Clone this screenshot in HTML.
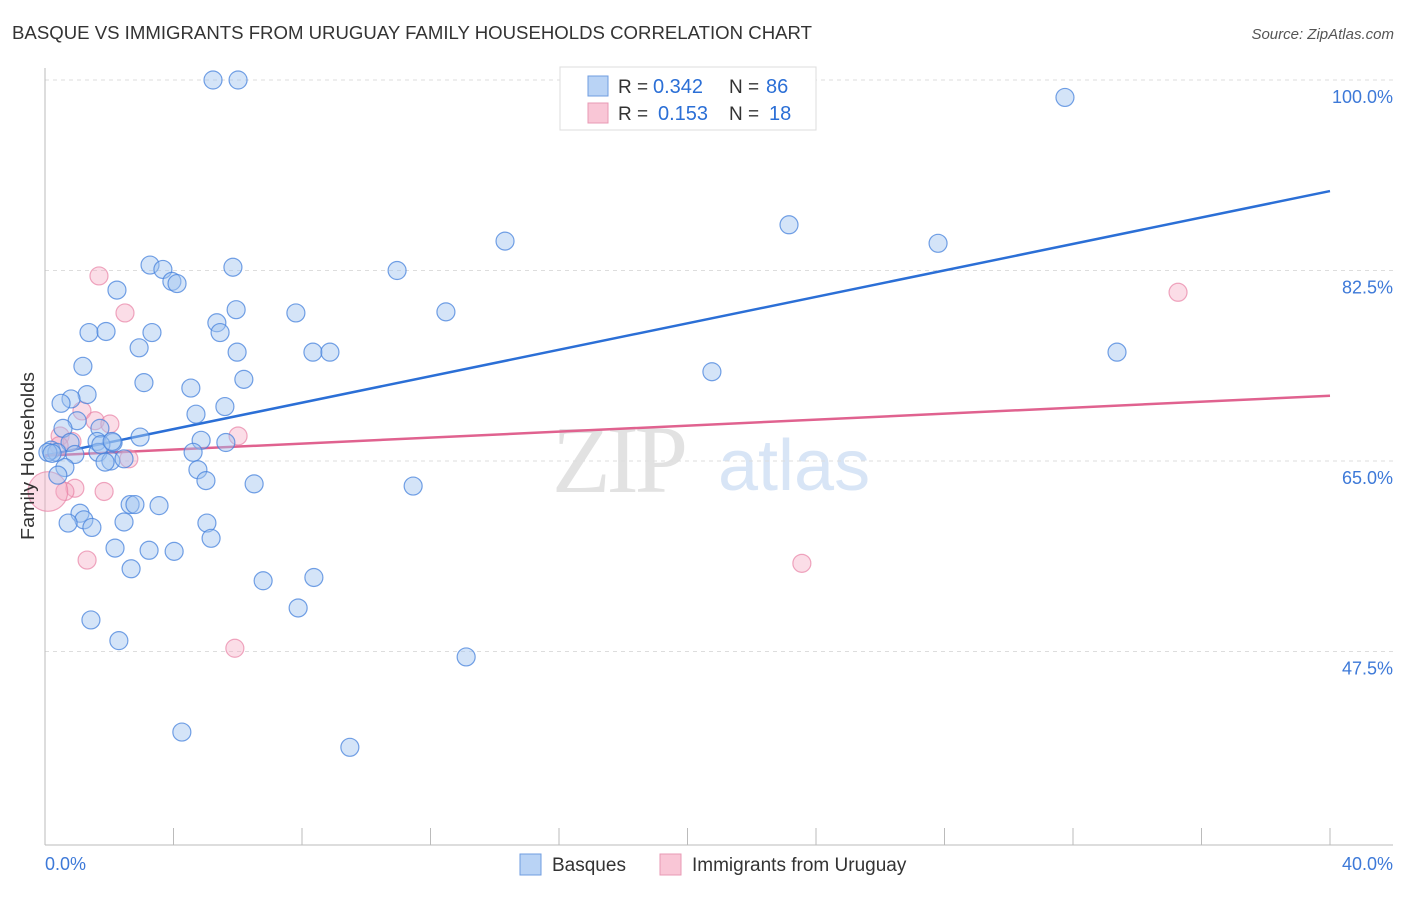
<!DOCTYPE html>
<html><head><meta charset="utf-8"><style>
body{margin:0;background:#fff;font-family:"Liberation Sans",sans-serif}
</style></head><body>
<svg id="chart" width="1406" height="892" xmlns="http://www.w3.org/2000/svg" style="font-family:'Liberation Sans',sans-serif">
<text x="12" y="39" font-size="18" fill="#333" textLength="800" lengthAdjust="spacingAndGlyphs">BASQUE VS IMMIGRANTS FROM URUGUAY FAMILY HOUSEHOLDS CORRELATION CHART</text>
<text x="1394" y="39" font-size="15" fill="#555" font-style="italic" text-anchor="end">Source: ZipAtlas.com</text>
<text x="552" y="492" font-size="96" fill="#e2e2e2" font-family="Liberation Serif" letter-spacing="-4">ZIP</text>
<text x="718" y="490" font-size="72" fill="#d8e5f6">atlas</text>
<g id="grid"></g><g id="axes"></g><g id="trend"></g><g id="points"></g>
<text transform="translate(34,456) rotate(-90)" font-size="18" fill="#333" text-anchor="middle" textLength="168" lengthAdjust="spacingAndGlyphs">Family Households</text>
<g>
<rect x="560" y="67" width="256" height="63" fill="#fff" stroke="#ddd"/>
<rect x="588" y="76" width="20" height="20" fill="#b9d3f5" stroke="#6f9de0"/>
<rect x="588" y="103" width="20" height="20" fill="#f9c6d6" stroke="#e89ab4"/>
<text x="618" y="93" font-size="19" fill="#333">R =</text>
<text x="653" y="93" font-size="20" fill="#2b6fd6">0.342</text>
<text x="729" y="93" font-size="19" fill="#333">N =</text>
<text x="766" y="93" font-size="20" fill="#2b6fd6">86</text>
<text x="618" y="120" font-size="19" fill="#333">R =</text>
<text x="658" y="120" font-size="20" fill="#2b6fd6">0.153</text>
<text x="729" y="120" font-size="19" fill="#333">N =</text>
<text x="769" y="120" font-size="20" fill="#2b6fd6">18</text>
</g>
<g>
<rect x="520" y="854" width="21" height="21" fill="#b9d3f5" stroke="#6f9de0"/>
<text x="552" y="871" font-size="19" fill="#333">Basques</text>
<rect x="660" y="854" width="21" height="21" fill="#f9c6d6" stroke="#e89ab4"/>
<text x="692" y="871" font-size="19" fill="#333">Immigrants from Uruguay</text>
</g>
</svg>
<script>
const yTicks=[100,82.5,65,47.5];
const yTickLabels=["100.0%","82.5%","65.0%","47.5%"];
const xTickLabels=["0.0%","40.0%"];
const basqueX=[5.23,6.01,31.75,14.32,23.16,27.80,3.27,3.67,5.85,10.96,3.95,4.11,2.24,5.95,7.81,12.48,5.35,1.37,1.90,3.33,5.45,2.93,5.98,8.34,8.87,33.37,1.18,20.76,6.19,3.08,4.54,1.31,0.81,0.50,5.60,4.70,1.00,0.56,1.71,2.96,4.86,1.62,2.12,5.63,0.78,0.19,0.37,4.61,1.65,0.93,2.05,1.87,2.46,0.62,4.76,0.40,5.01,6.51,11.46,2.65,2.80,3.55,1.09,1.21,0.72,2.46,5.04,1.46,5.17,2.18,3.24,4.02,2.68,6.79,8.37,7.88,1.43,2.30,13.11,4.26,9.49,0.09,0.22,1.74,2.09];
const basqueY=[100,100,98.4,85.2,86.7,85.0,83.0,82.6,82.8,82.5,81.5,81.3,80.7,78.9,78.6,78.7,77.7,76.8,76.9,76.8,76.8,75.4,75.0,75.0,75.0,75.0,73.7,73.2,72.5,72.2,71.7,71.1,70.7,70.3,70.0,69.3,68.7,68.0,68.0,67.2,66.9,66.8,66.7,66.7,66.7,66.0,65.8,65.8,65.8,65.6,65.0,64.9,65.2,64.4,64.2,63.7,63.2,62.9,62.7,61.0,61.0,60.9,60.2,59.6,59.3,59.4,59.3,58.9,57.9,57.0,56.8,56.7,55.1,54.0,54.3,51.5,50.4,48.5,47.0,40.1,38.7,65.8,65.7,66.5,66.8];
const uruguayX=[1.68,2.49,1.15,1.56,2.02,0.47,0.84,6.01,2.61,0.93,1.84,0.62,1.31,5.91,23.56,35.27,0.09,0.44];
const uruguayY=[82.0,78.6,69.6,68.7,68.4,67.3,66.8,67.3,65.2,62.5,62.2,62.2,55.9,47.8,55.6,80.5,62.2,66.4];
const uruguaySize=[1,1,1,1,1,1,1,1,1,1,1,1,1,1,1,1,2.2,1];
const basqueTrend=[65.5,89.8];
const uruguayTrend=[65.5,71.0];
const NS="http://www.w3.org/2000/svg";
const X0=45,X1=1330,Y100=80,PX=10.886;
const xs=v=>X0+(v/40)*(X1-X0);
const ys=v=>Y100+(100-v)*PX;
function mk(tag,attrs,parent){const e=document.createElementNS(NS,tag);for(const k in attrs)e.setAttribute(k,attrs[k]);document.getElementById(parent).appendChild(e);return e;}
yTicks.forEach((t,i)=>{
 const l=mk('line',{x1:X0,x2:1393,y1:ys(t),y2:ys(t),stroke:'#ddd','stroke-dasharray':'4,4'},'grid');
 
 
 const tx=mk('text',{x:1393,y:ys(t)+23,'font-size':18,fill:'#3d79d8','text-anchor':'end'},'grid');
 
 
 tx.textContent=yTickLabels[i];
});
let a=mk('line',{x1:X0,x2:X0,y1:68,y2:845,stroke:'#bbb'},'axes');


a=mk('line',{x1:X0,x2:1393,y1:845,y2:845,stroke:'#bbb'},'axes');


for(let i=0;i<=10;i++){const t=mk('line',{x1:xs(i*4),x2:xs(i*4),y1:828,y2:845,stroke:'#bbb'},'axes');
 
 }
[[0,'start'],[40,'end']].forEach((p,i)=>{const t=mk('text',{x:i?1393:45,y:870,'font-size':18,fill:'#3d79d8','text-anchor':p[1]},'axes');
 
 
 t.textContent=xTickLabels[i];});
uruguayX.forEach((x,i)=>{const c=mk('circle',{cx:xs(x),cy:ys(uruguayY[i]),r:9*uruguaySize[i],fill:'rgba(246,170,196,0.4)',stroke:'rgba(232,130,165,0.7)','stroke-width':1.2},'points');
 
 });
basqueX.forEach((x,i)=>{const c=mk('circle',{cx:xs(x),cy:ys(basqueY[i]),r:9,fill:'rgba(160,196,240,0.45)',stroke:'rgba(70,130,220,0.75)','stroke-width':1.2},'points');
 
 });
let tl=mk('line',{x1:xs(0),y1:ys(basqueTrend[0]),x2:xs(40),y2:ys(basqueTrend[1]),stroke:'#2b6fd6','stroke-width':2.5},'trend');


tl=mk('line',{x1:xs(0),y1:ys(uruguayTrend[0]),x2:xs(40),y2:ys(uruguayTrend[1]),stroke:'#e0628f','stroke-width':2.5},'trend');


</script>
</body></html>
